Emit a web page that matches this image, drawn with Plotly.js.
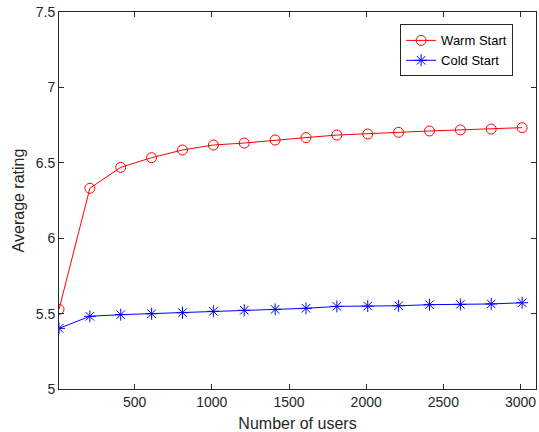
<!DOCTYPE html>
<html>
<head>
<meta charset="utf-8">
<script src="https://cdn.plot.ly/plotly-3.0.1.min.js"></script>
<style>html,body{margin:0;padding:0;background:#fff;}#chart{width:539px;height:432px;}</style>
</head>
<body>
<div id="chart"></div>
<script>
const users = [10, 210, 410, 610, 810, 1010, 1210, 1410, 1610, 1810, 2010, 2210, 2410, 2610, 2810, 3010];
const warmStart = [5.528, 6.331, 6.470, 6.534, 6.585, 6.618, 6.631, 6.651, 6.667, 6.684, 6.691, 6.702, 6.711, 6.718, 6.724, 6.733];
const coldStart = [5.402, 5.482, 5.493, 5.499, 5.506, 5.515, 5.522, 5.528, 5.535, 5.548, 5.550, 5.552, 5.559, 5.561, 5.564, 5.572];
const xTicks = [500, 1000, 1500, 2000, 2500, 3000];
const yTicks = [5, 5.5, 6, 6.5, 7, 7.5];
const yTickLabels = ['5', '5.5', '6', '6.5', '7', '7.5'];

const FONT = 'Liberation Sans, Arial, sans-serif';

const traces = [
  {x: users, y: warmStart, name: 'Warm Start', type: 'scatter', mode: 'lines+markers',
   line: {color: '#ff0000', width: 1},
   marker: {symbol: 'circle-open', size: 10, color: '#ff0000', line: {width: 1, color: '#ff0000'}}},
  {x: users, y: coldStart, name: 'Cold Start', type: 'scatter', mode: 'lines+markers',
   line: {color: '#0000ff', width: 1},
   marker: {symbol: 'asterisk-open', size: 10, color: '#0000ff', line: {width: 1, color: '#0000ff'}}}
];

const axisCommon = {
  showline: true, linecolor: '#262626', linewidth: 1, mirror: 'ticks',
  ticks: 'inside', ticklen: 5, tickcolor: '#262626', tickwidth: 1,
  showgrid: false, zeroline: false,
  tickfont: {family: FONT, size: 14, color: '#262626'}
};

const layout = {
  width: 539, height: 432,
  margin: {l: 59, r: 3, t: 12, b: 43},
  paper_bgcolor: '#ffffff', plot_bgcolor: '#ffffff',
  showlegend: true,
  legend: {x: 0.952, y: 0.967, xanchor: 'right', yanchor: 'top',
    bgcolor: '#ffffff', bordercolor: '#262626', borderwidth: 1,
    font: {family: FONT, size: 13, color: '#000'},
    tracegroupgap: 0},
  xaxis: Object.assign({}, axisCommon, {
    range: [10, 3100], tickvals: xTicks,
    title: {text: 'Number of users', standoff: 9,
      font: {family: FONT, size: 16, color: '#262626'}}
  }),
  yaxis: Object.assign({}, axisCommon, {
    range: [5, 7.5], tickvals: yTicks, ticktext: yTickLabels,
    title: {text: 'Average rating', standoff: 7,
      font: {family: FONT, size: 16, color: '#262626'}}
  })
};

Plotly.newPlot('chart', traces, layout, {displayModeBar: false, staticPlot: true});
</script>
</body>
</html>
